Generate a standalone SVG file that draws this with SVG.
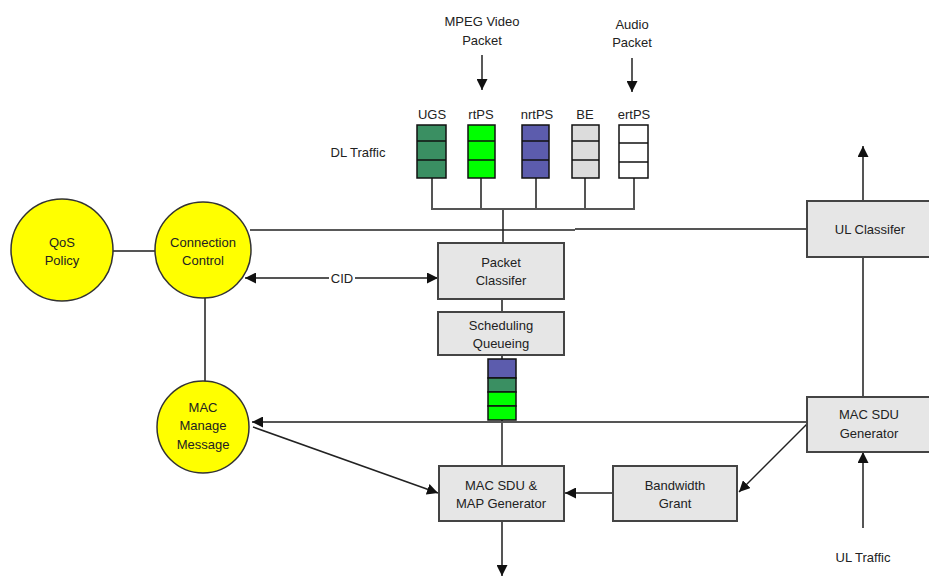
<svg xmlns="http://www.w3.org/2000/svg" width="929" height="577" viewBox="0 0 929 577">
<style>
  text { font-family: "Liberation Sans", Arial, sans-serif; font-size: 13px; fill: #222; text-anchor: middle; dominant-baseline: central; }
  .box { fill: #e6e6e6; stroke: #444; stroke-width: 2; }
  .circ { fill: #ffff00; stroke: #333; stroke-width: 1.5; }
  .q { stroke: #111; stroke-width: 1.5; }
  .ln { fill: none; stroke: #555; stroke-width: 2; }
  .dk { fill: none; stroke: #222; stroke-width: 1.5; }
</style>
<defs>
  <marker id="ah" viewBox="0 0 10 10" refX="10" refY="5" markerWidth="11" markerHeight="11" markerUnits="userSpaceOnUse" orient="auto-start-reverse">
    <path d="M0,0 L10,5 L0,10 z" fill="#111"/>
  </marker>
</defs>
<rect width="929" height="577" fill="#fff"/>

<g id="connectors">
  <!-- inputs -->
  <line class="dk" x1="482" y1="55" x2="482" y2="90" marker-end="url(#ah)"/>
  <line class="dk" x1="632" y1="58" x2="632" y2="92" marker-end="url(#ah)"/>
  <!-- DL bus -->
  <path class="ln" d="M432,178 V209 M481,178 V209 M536,178 V209 M585,178 V209 M634,178 V209 M431,209 H635 M503,209 V243"/>
  <!-- QoS - CC -->
  <line class="ln" x1="113" y1="251" x2="155" y2="251"/>
  <!-- CC - UL classifier -->
  <line class="dk" x1="250" y1="230" x2="575" y2="230"/>
  <line class="ln" x1="575" y1="229" x2="807" y2="229"/>
  <!-- CID -->
  <line class="ln" x1="245" y1="278" x2="329" y2="278" marker-start="url(#ah)"/>
  <line class="ln" x1="355" y1="278" x2="438" y2="278" marker-end="url(#ah)"/>
  <!-- CC - MAC manage -->
  <line class="ln" x1="205" y1="298" x2="205" y2="383"/>
  <!-- classifier chain -->
  <line class="ln" x1="502" y1="299" x2="502" y2="312"/>
  <line class="ln" x1="502" y1="355" x2="502" y2="359"/>
  <line class="dk" x1="502" y1="420" x2="502" y2="466"/>
  <!-- MAC SDU Generator to MAC manage -->
  <line class="ln" x1="807" y1="422" x2="252" y2="422" marker-end="url(#ah)"/>
  <!-- MAC manage to MAP Generator -->
  <line class="dk" x1="253" y1="427" x2="438" y2="493" marker-end="url(#ah)"/>
  <!-- MAC SDU Generator to Bandwidth Grant -->
  <line class="dk" x1="807" y1="424" x2="739" y2="492" marker-end="url(#ah)"/>
  <!-- Bandwidth Grant to MAP Generator -->
  <line class="ln" x1="613" y1="493" x2="565" y2="493" marker-end="url(#ah)"/>
  <!-- MAP Generator out -->
  <line class="ln" x1="502" y1="521" x2="502" y2="576" marker-end="url(#ah)"/>
  <!-- UL path -->
  <line class="ln" x1="863" y1="201" x2="863" y2="146" marker-end="url(#ah)"/>
  <line class="ln" x1="863" y1="257" x2="863" y2="397"/>
  <line class="ln" x1="863" y1="528" x2="863" y2="452" marker-end="url(#ah)"/>
  <text x="342" y="278">CID</text>
</g>

<g id="mpeg-label">
  <text x="482" y="21">MPEG Video</text>
  <text x="482" y="40">Packet</text>
</g>
<g id="audio-label">
  <text x="632" y="24">Audio</text>
  <text x="632" y="42">Packet</text>
</g>
<g id="dl-traffic-label"><text x="358" y="152">DL Traffic</text></g>

<g id="q-ugs">
  <text x="432" y="114">UGS</text>
  <rect x="417" y="125" width="29" height="53" fill="#3a8f62" class="q"/>
  <line class="q" x1="417" y1="141" x2="446" y2="141"/><line class="q" x1="417" y1="160" x2="446" y2="160"/>
</g>
<g id="q-rtps">
  <text x="481" y="114">rtPS</text>
  <rect x="468" y="125" width="27" height="53" fill="#00ff00" class="q"/>
  <line class="q" x1="468" y1="141" x2="495" y2="141"/><line class="q" x1="468" y1="160" x2="495" y2="160"/>
</g>
<g id="q-nrtps">
  <text x="537" y="114">nrtPS</text>
  <rect x="522" y="125" width="27" height="53" fill="#5c5cad" class="q"/>
  <line class="q" x1="522" y1="141" x2="549" y2="141"/><line class="q" x1="522" y1="160" x2="549" y2="160"/>
</g>
<g id="q-be">
  <text x="585" y="114">BE</text>
  <rect x="572" y="125" width="27" height="53" fill="#dcdcdc" class="q"/>
  <line class="q" x1="572" y1="141" x2="599" y2="141"/><line class="q" x1="572" y1="160" x2="599" y2="160"/>
</g>
<g id="q-ertps">
  <text x="634" y="114">ertPS</text>
  <rect x="619" y="125" width="29" height="53" fill="#fff" class="q"/>
  <line class="q" x1="619" y1="143" x2="648" y2="143"/><line class="q" x1="619" y1="162" x2="648" y2="162"/>
</g>

<g id="qos-policy">
  <circle class="circ" cx="62" cy="250" r="51"/>
  <text x="62" y="242">QoS</text><text x="62" y="260">Policy</text>
</g>
<g id="connection-control">
  <circle class="circ" cx="203" cy="250" r="48"/>
  <text x="203" y="242">Connection</text><text x="203" y="260">Control</text>
</g>
<g id="mac-manage-message">
  <circle class="circ" cx="203" cy="427" r="46"/>
  <text x="203" y="407">MAC</text><text x="203" y="425">Manage</text><text x="203" y="444">Message</text>
</g>

<g id="packet-classifier">
  <rect class="box" x="438" y="243" width="126" height="56"/>
  <text x="501" y="262">Packet</text><text x="501" y="280">Classifer</text>
</g>
<g id="scheduling-queueing">
  <rect class="box" x="438" y="312" width="126" height="43"/>
  <text x="501" y="325">Scheduling</text><text x="501" y="343">Queueing</text>
</g>
<g id="out-queue">
  <rect x="488" y="359" width="28" height="19" fill="#5c5cad" class="q"/>
  <rect x="488" y="378" width="28" height="14" fill="#3a8f62" class="q"/>
  <rect x="488" y="392" width="28" height="14" fill="#00ff00" class="q"/>
  <rect x="488" y="406" width="28" height="14" fill="#00ff00" class="q"/>
</g>
<g id="map-generator">
  <rect class="box" x="439" y="466" width="125" height="55"/>
  <text x="501" y="485">MAC SDU &amp;</text><text x="501" y="503">MAP Generator</text>
</g>
<g id="bandwidth-grant">
  <rect class="box" x="613" y="466" width="124" height="55"/>
  <text x="675" y="485">Bandwidth</text><text x="675" y="503">Grant</text>
</g>
<g id="ul-classifier">
  <rect class="box" x="807" y="201" width="125" height="56"/>
  <text x="870" y="229">UL Classifer</text>
</g>
<g id="mac-sdu-generator">
  <rect class="box" x="807" y="397" width="125" height="55"/>
  <text x="869" y="414">MAC SDU</text><text x="869" y="433">Generator</text>
</g>
<g id="ul-traffic-label"><text x="863" y="557">UL Traffic</text></g>
</svg>
